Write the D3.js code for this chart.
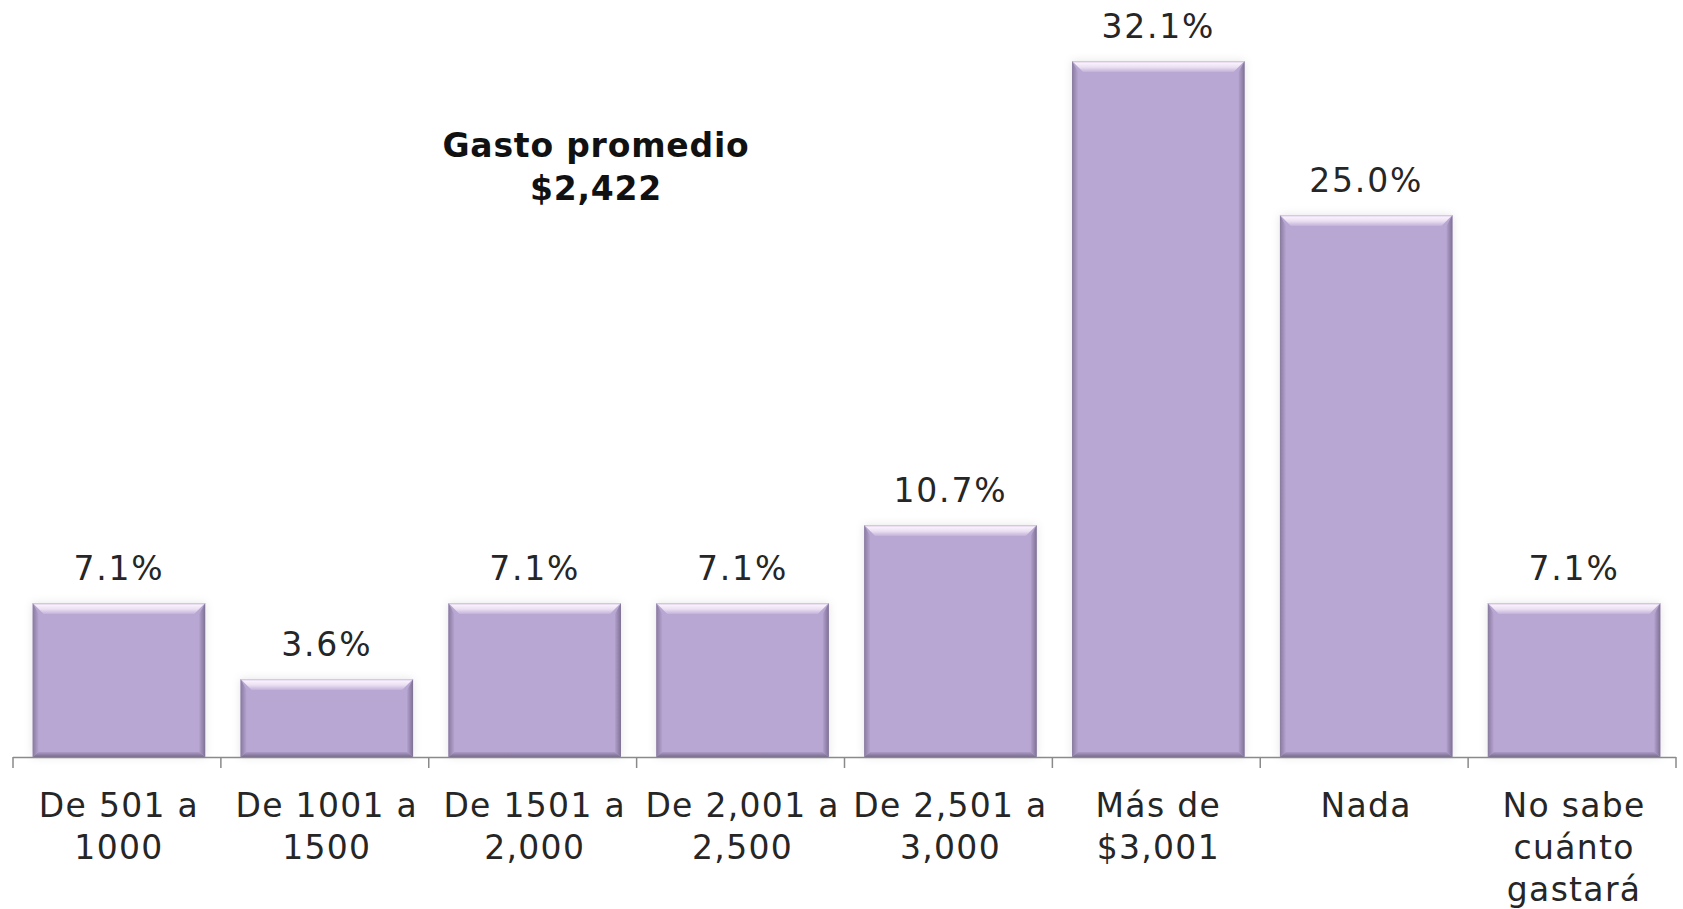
<!DOCTYPE html>
<html>
<head>
<meta charset="utf-8">
<script src="https://cdn.jsdelivr.net/npm/d3@7"></script>
<style>
  html, body { margin: 0; padding: 0; background: #fff; }
  svg { display: block; }
</style>
</head>
<body>
<div id="vis"></div>
<script>
// data
var categories = ["De 501 a\n1000", "De 1001 a\n1500", "De 1501 a\n2,000", "De 2,001 a\n2,500",
                  "De 2,501 a\n3,000", "Más de\n$3,001", "Nada", "No sabe\ncuánto\ngastará"];
var values = [7.1, 3.6, 7.1, 7.1, 10.7, 32.1, 25.0, 7.1];
var titleLines = ["Gasto promedio", "$2,422"];

var width = 1683, height = 909;
var font = "Verdana, 'DejaVu Sans', sans-serif";

var svg = d3.select("#vis").append("svg")
  .attr("width", width)
  .attr("height", height);

var defs = svg.append("defs");

// gradients for the bevel look
var gTop = defs.append("linearGradient").attr("id", "gTop")
  .attr("x1", 0).attr("y1", 0).attr("x2", 0).attr("y2", 1);
gTop.append("stop").attr("offset", "0%").attr("stop-color", "#cbbbdd");
gTop.append("stop").attr("offset", "20%").attr("stop-color", "#f8f1fb");
gTop.append("stop").attr("offset", "55%").attr("stop-color", "#ebe0f3");
gTop.append("stop").attr("offset", "100%").attr("stop-color", "#c3b1d9");

var gLeft = defs.append("linearGradient").attr("id", "gLeft")
  .attr("x1", 0).attr("y1", 0).attr("x2", 1).attr("y2", 0);
gLeft.append("stop").attr("offset", "0%").attr("stop-color", "#87799e");
gLeft.append("stop").attr("offset", "100%").attr("stop-color", "#b6a4d0");

var gRight = defs.append("linearGradient").attr("id", "gRight")
  .attr("x1", 0).attr("y1", 0).attr("x2", 1).attr("y2", 0);
gRight.append("stop").attr("offset", "0%").attr("stop-color", "#b2a0cc");
gRight.append("stop").attr("offset", "100%").attr("stop-color", "#7d7093");

var gBottom = defs.append("linearGradient").attr("id", "gBottom")
  .attr("x1", 0).attr("y1", 0).attr("x2", 0).attr("y2", 1);
gBottom.append("stop").attr("offset", "0%").attr("stop-color", "#ad9bc7");
gBottom.append("stop").attr("offset", "100%").attr("stop-color", "#76698c");

var shadow = defs.append("filter").attr("id", "shadow")
  .attr("x", "-10%").attr("y", "-10%").attr("width", "120%").attr("height", "120%");
shadow.append("feDropShadow").attr("dx", 0).attr("dy", 0).attr("stdDeviation", 4)
  .attr("flood-color", "#000").attr("flood-opacity", 0.1);

// scales
var x = d3.scaleBand()
  .domain(categories)
  .range([15, 1678])
  .paddingInner(0.17)
  .paddingOuter(0.085);

var y = d3.scaleLinear()
  .domain([0, 32.1])
  .range([757, 61]);

var bev = 11, side = 6;

// bars
var bars = svg.append("g").selectAll("g.bar")
  .data(values)
  .join("g")
  .attr("class", "bar")
  .attr("filter", "url(#shadow)");

bars.each(function(d, i) {
  var g = d3.select(this);
  var x0 = x(categories[i]), w = x.bandwidth();
  var y0 = y(d), y1 = y(0), h = y1 - y0;

  g.append("rect")
    .attr("x", x0).attr("y", y0).attr("width", w).attr("height", h)
    .attr("fill", "#b9a7d3");

  g.append("polygon")
    .attr("points", [[x0, y0], [x0 + side, y0 + bev], [x0 + side, y1 - 5], [x0, y1]].join(" "))
    .attr("fill", "url(#gLeft)");

  g.append("polygon")
    .attr("points", [[x0 + w, y0], [x0 + w - side, y0 + bev], [x0 + w - side, y1 - 5], [x0 + w, y1]].join(" "))
    .attr("fill", "url(#gRight)");

  g.append("polygon")
    .attr("points", [[x0, y1], [x0 + side, y1 - 5], [x0 + w - side, y1 - 5], [x0 + w, y1]].join(" "))
    .attr("fill", "url(#gBottom)");

  g.append("polygon")
    .attr("points", [[x0, y0], [x0 + w, y0], [x0 + w - bev, y0 + bev], [x0 + bev, y0 + bev]].join(" "))
    .attr("fill", "url(#gTop)");
});

// value labels
svg.append("g").selectAll("text")
  .data(values)
  .join("text")
  .attr("x", (d, i) => x(categories[i]) + x.bandwidth() / 2)
  .attr("y", d => y(d) - 23)
  .attr("text-anchor", "middle")
  .attr("font-family", font)
  .attr("font-size", 33)
  .attr("letter-spacing", 1.8)
  .attr("fill", "#262626")
  .text(d => d.toFixed(1) + "%");

// axis
var axis = svg.append("g").attr("stroke", "#8a8a8a").attr("stroke-width", 1.5);
axis.append("line")
  .attr("x1", 13).attr("x2", 1676)
  .attr("y1", y(0) + 0.5).attr("y2", y(0) + 0.5);

var boundaries = d3.range(categories.length + 1).map(i => 13 + i * x.step());
axis.selectAll("line.tick")
  .data(boundaries)
  .join("line")
  .attr("class", "tick")
  .attr("x1", d => d).attr("x2", d => d)
  .attr("y1", y(0)).attr("y2", y(0) + 11);

// category labels
var catLabels = svg.append("g").selectAll("text")
  .data(categories)
  .join("text")
  .attr("text-anchor", "middle")
  .attr("font-family", font)
  .attr("font-size", 33)
  .attr("letter-spacing", 1.3)
  .attr("fill", "#262626")
  .attr("transform", d => `translate(${x(d) + x.bandwidth() / 2},817)`);

catLabels.selectAll("tspan")
  .data(d => d.split("\n"))
  .join("tspan")
  .attr("x", 0)
  .attr("y", (d, i) => i * 42)
  .text(d => d);

// title annotation
svg.append("g").selectAll("text")
  .data(titleLines)
  .join("text")
  .attr("x", 596)
  .attr("y", (d, i) => 157 + i * 43)
  .attr("text-anchor", "middle")
  .attr("font-family", font)
  .attr("font-weight", "bold")
  .attr("font-size", 33)
  .attr("letter-spacing", 0.8)
  .attr("fill", "#111")
  .text(d => d);
</script>
</body>
</html>
